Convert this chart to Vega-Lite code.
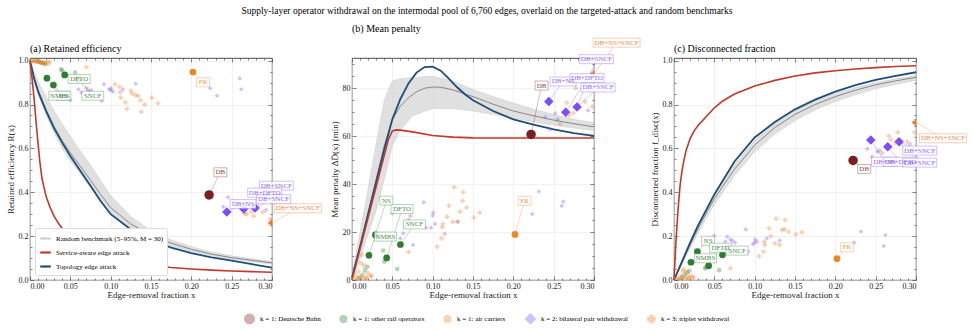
{
  "$schema": "https://vega.github.io/schema/vega-lite/v6.json",
  "padding": 5,
  "title": {"text": "Supply-layer operator withdrawal on the intermodal pool of 6,760 edges, overlaid on the targeted-attack and random benchmarks", "anchor": "middle", "fontSize": 9.5, "offset": 8, "font": "Liberation Serif", "fontWeight": "normal"},
  "datasets": {
    "leg": [
      {"s": "Random benchmark (5–95%, M = 30)", "x": 0, "y": 0},
      {"s": "Service-aware edge attack", "x": 0, "y": 0},
      {"s": "Topology edge attack", "x": 0, "y": 0}
    ],
    "band": [
      {"p":"a","x":0,"lo":1,"hi":1},{"p":"a","x":0.005,"lo":0.91,"hi":0.95},{"p":"a","x":0.01,"lo":0.845,"hi":0.905},{"p":"a","x":0.02,"lo":0.75,"hi":0.835},{"p":"a","x":0.03,"lo":0.67,"hi":0.77},{"p":"a","x":0.04,"lo":0.6,"hi":0.71},{"p":"a","x":0.05,"lo":0.545,"hi":0.655},{"p":"a","x":0.06,"lo":0.495,"hi":0.6},{"p":"a","x":0.075,"lo":0.42,"hi":0.525},{"p":"a","x":0.0875,"lo":0.36,"hi":0.455},{"p":"a","x":0.1,"lo":0.305,"hi":0.385},{"p":"a","x":0.125,"lo":0.235,"hi":0.29},{"p":"a","x":0.15,"lo":0.19,"hi":0.225},{"p":"a","x":0.175,"lo":0.155,"hi":0.183},{"p":"a","x":0.2,"lo":0.13,"hi":0.152},{"p":"a","x":0.225,"lo":0.11,"hi":0.128},{"p":"a","x":0.25,"lo":0.095,"hi":0.11},{"p":"a","x":0.275,"lo":0.083,"hi":0.097},{"p":"a","x":0.3,"lo":0.072,"hi":0.085},
      {"p":"b","x":0,"lo":0,"hi":2},{"p":"b","x":0.01,"lo":9,"hi":20},{"p":"b","x":0.02,"lo":19,"hi":38},{"p":"b","x":0.03,"lo":29,"hi":57},{"p":"b","x":0.04,"lo":42,"hi":75},{"p":"b","x":0.05,"lo":56,"hi":83},{"p":"b","x":0.06,"lo":62.5,"hi":84},{"p":"b","x":0.075,"lo":68.5,"hi":84.5},{"p":"b","x":0.1,"lo":71.5,"hi":85},{"p":"b","x":0.125,"lo":71.5,"hi":83},{"p":"b","x":0.15,"lo":70.5,"hi":79.5},{"p":"b","x":0.175,"lo":69,"hi":76.5},{"p":"b","x":0.2,"lo":67.5,"hi":73.8},{"p":"b","x":0.225,"lo":66,"hi":71.3},{"p":"b","x":0.25,"lo":64.6,"hi":69},{"p":"b","x":0.275,"lo":63.4,"hi":67},{"p":"b","x":0.3,"lo":62.4,"hi":65.6},
      {"p":"c","x":0,"lo":0,"hi":0},{"p":"c","x":0.01,"lo":0.07,"hi":0.088},{"p":"c","x":0.02,"lo":0.145,"hi":0.172},{"p":"c","x":0.03,"lo":0.215,"hi":0.25},{"p":"c","x":0.04,"lo":0.28,"hi":0.322},{"p":"c","x":0.05,"lo":0.343,"hi":0.39},{"p":"c","x":0.06,"lo":0.397,"hi":0.445},{"p":"c","x":0.075,"lo":0.475,"hi":0.527},{"p":"c","x":0.1,"lo":0.585,"hi":0.637},{"p":"c","x":0.125,"lo":0.665,"hi":0.715},{"p":"c","x":0.15,"lo":0.727,"hi":0.773},{"p":"c","x":0.175,"lo":0.775,"hi":0.816},{"p":"c","x":0.2,"lo":0.814,"hi":0.85},{"p":"c","x":0.225,"lo":0.845,"hi":0.877},{"p":"c","x":0.25,"lo":0.872,"hi":0.9},{"p":"c","x":0.275,"lo":0.892,"hi":0.917},{"p":"c","x":0.3,"lo":0.91,"hi":0.932}
    ],
    "curves": [
      {"p":"a","s":"svc","x":0,"y":1.0},{"p":"a","s":"svc","x":0.0025,"y":0.92},{"p":"a","s":"svc","x":0.005,"y":0.83},{"p":"a","s":"svc","x":0.0075,"y":0.72},{"p":"a","s":"svc","x":0.01,"y":0.62},{"p":"a","s":"svc","x":0.0125,"y":0.53},{"p":"a","s":"svc","x":0.015,"y":0.46},{"p":"a","s":"svc","x":0.02,"y":0.38},{"p":"a","s":"svc","x":0.025,"y":0.33},{"p":"a","s":"svc","x":0.03,"y":0.29},{"p":"a","s":"svc","x":0.035,"y":0.26},{"p":"a","s":"svc","x":0.04,"y":0.235},{"p":"a","s":"svc","x":0.045,"y":0.215},{"p":"a","s":"svc","x":0.05,"y":0.195},{"p":"a","s":"svc","x":0.06,"y":0.165},{"p":"a","s":"svc","x":0.07,"y":0.145},{"p":"a","s":"svc","x":0.08,"y":0.128},{"p":"a","s":"svc","x":0.1,"y":0.1},{"p":"a","s":"svc","x":0.125,"y":0.08},{"p":"a","s":"svc","x":0.15,"y":0.067},{"p":"a","s":"svc","x":0.175,"y":0.057},{"p":"a","s":"svc","x":0.2,"y":0.05},{"p":"a","s":"svc","x":0.225,"y":0.045},{"p":"a","s":"svc","x":0.25,"y":0.041},{"p":"a","s":"svc","x":0.275,"y":0.038},{"p":"a","s":"svc","x":0.3,"y":0.035},
      {"p":"a","s":"top","x":0,"y":1.0},{"p":"a","s":"top","x":0.005,"y":0.92},{"p":"a","s":"top","x":0.01,"y":0.86},{"p":"a","s":"top","x":0.02,"y":0.77},{"p":"a","s":"top","x":0.03,"y":0.69},{"p":"a","s":"top","x":0.04,"y":0.625},{"p":"a","s":"top","x":0.05,"y":0.565},{"p":"a","s":"top","x":0.06,"y":0.51},{"p":"a","s":"top","x":0.075,"y":0.43},{"p":"a","s":"top","x":0.0875,"y":0.36},{"p":"a","s":"top","x":0.1,"y":0.3},{"p":"a","s":"top","x":0.125,"y":0.23},{"p":"a","s":"top","x":0.15,"y":0.18},{"p":"a","s":"top","x":0.175,"y":0.148},{"p":"a","s":"top","x":0.2,"y":0.122},{"p":"a","s":"top","x":0.225,"y":0.103},{"p":"a","s":"top","x":0.25,"y":0.088},{"p":"a","s":"top","x":0.275,"y":0.072},{"p":"a","s":"top","x":0.3,"y":0.056},
      {"p":"a","s":"med","x":0,"y":1.0},{"p":"a","s":"med","x":0.005,"y":0.925},{"p":"a","s":"med","x":0.01,"y":0.865},{"p":"a","s":"med","x":0.02,"y":0.775},{"p":"a","s":"med","x":0.03,"y":0.7},{"p":"a","s":"med","x":0.04,"y":0.635},{"p":"a","s":"med","x":0.05,"y":0.58},{"p":"a","s":"med","x":0.06,"y":0.53},{"p":"a","s":"med","x":0.075,"y":0.455},{"p":"a","s":"med","x":0.0875,"y":0.39},{"p":"a","s":"med","x":0.1,"y":0.33},{"p":"a","s":"med","x":0.125,"y":0.255},{"p":"a","s":"med","x":0.15,"y":0.205},{"p":"a","s":"med","x":0.175,"y":0.168},{"p":"a","s":"med","x":0.2,"y":0.14},{"p":"a","s":"med","x":0.225,"y":0.118},{"p":"a","s":"med","x":0.25,"y":0.102},{"p":"a","s":"med","x":0.275,"y":0.09},{"p":"a","s":"med","x":0.3,"y":0.078},
      {"p":"b","s":"svc","x":0,"y":0},{"p":"b","s":"svc","x":0.01,"y":13},{"p":"b","s":"svc","x":0.02,"y":26},{"p":"b","s":"svc","x":0.03,"y":39},{"p":"b","s":"svc","x":0.04,"y":52},{"p":"b","s":"svc","x":0.045,"y":58.5},{"p":"b","s":"svc","x":0.05,"y":62.2},{"p":"b","s":"svc","x":0.055,"y":62.6},{"p":"b","s":"svc","x":0.06,"y":62.5},{"p":"b","s":"svc","x":0.075,"y":61.8},{"p":"b","s":"svc","x":0.1,"y":60.3},{"p":"b","s":"svc","x":0.125,"y":59.6},{"p":"b","s":"svc","x":0.15,"y":59.3},{"p":"b","s":"svc","x":0.2,"y":59.2},{"p":"b","s":"svc","x":0.25,"y":59.2},{"p":"b","s":"svc","x":0.3,"y":59.2},
      {"p":"b","s":"top","x":0,"y":1},{"p":"b","s":"top","x":0.01,"y":14},{"p":"b","s":"top","x":0.02,"y":27.5},{"p":"b","s":"top","x":0.03,"y":41},{"p":"b","s":"top","x":0.04,"y":54.5},{"p":"b","s":"top","x":0.05,"y":67},{"p":"b","s":"top","x":0.06,"y":75.5},{"p":"b","s":"top","x":0.07,"y":82},{"p":"b","s":"top","x":0.08,"y":86.5},{"p":"b","s":"top","x":0.09,"y":88.8},{"p":"b","s":"top","x":0.1,"y":89},{"p":"b","s":"top","x":0.11,"y":87.3},{"p":"b","s":"top","x":0.12,"y":84},{"p":"b","s":"top","x":0.13,"y":80.5},{"p":"b","s":"top","x":0.14,"y":77.5},{"p":"b","s":"top","x":0.15,"y":75},{"p":"b","s":"top","x":0.175,"y":70.5},{"p":"b","s":"top","x":0.2,"y":67},{"p":"b","s":"top","x":0.225,"y":64.8},{"p":"b","s":"top","x":0.25,"y":62.8},{"p":"b","s":"top","x":0.275,"y":61.3},{"p":"b","s":"top","x":0.3,"y":60.1},
      {"p":"b","s":"med","x":0,"y":1},{"p":"b","s":"med","x":0.01,"y":14},{"p":"b","s":"med","x":0.02,"y":28},{"p":"b","s":"med","x":0.03,"y":42},{"p":"b","s":"med","x":0.04,"y":56},{"p":"b","s":"med","x":0.05,"y":67},{"p":"b","s":"med","x":0.06,"y":72.5},{"p":"b","s":"med","x":0.07,"y":76},{"p":"b","s":"med","x":0.08,"y":78.5},{"p":"b","s":"med","x":0.09,"y":80},{"p":"b","s":"med","x":0.1,"y":80.5},{"p":"b","s":"med","x":0.11,"y":80.4},{"p":"b","s":"med","x":0.125,"y":79.3},{"p":"b","s":"med","x":0.15,"y":76.5},{"p":"b","s":"med","x":0.175,"y":73.3},{"p":"b","s":"med","x":0.2,"y":70.5},{"p":"b","s":"med","x":0.225,"y":68.5},{"p":"b","s":"med","x":0.25,"y":66.7},{"p":"b","s":"med","x":0.275,"y":65.2},{"p":"b","s":"med","x":0.3,"y":63.9},
      {"p":"c","s":"svc","x":0,"y":0},{"p":"c","s":"svc","x":0.0025,"y":0.18},{"p":"c","s":"svc","x":0.005,"y":0.32},{"p":"c","s":"svc","x":0.0075,"y":0.43},{"p":"c","s":"svc","x":0.01,"y":0.5},{"p":"c","s":"svc","x":0.0125,"y":0.55},{"p":"c","s":"svc","x":0.015,"y":0.59},{"p":"c","s":"svc","x":0.02,"y":0.645},{"p":"c","s":"svc","x":0.025,"y":0.68},{"p":"c","s":"svc","x":0.03,"y":0.705},{"p":"c","s":"svc","x":0.035,"y":0.725},{"p":"c","s":"svc","x":0.04,"y":0.745},{"p":"c","s":"svc","x":0.045,"y":0.765},{"p":"c","s":"svc","x":0.05,"y":0.785},{"p":"c","s":"svc","x":0.06,"y":0.815},{"p":"c","s":"svc","x":0.075,"y":0.848},{"p":"c","s":"svc","x":0.1,"y":0.884},{"p":"c","s":"svc","x":0.125,"y":0.91},{"p":"c","s":"svc","x":0.15,"y":0.93},{"p":"c","s":"svc","x":0.175,"y":0.944},{"p":"c","s":"svc","x":0.2,"y":0.954},{"p":"c","s":"svc","x":0.225,"y":0.962},{"p":"c","s":"svc","x":0.25,"y":0.968},{"p":"c","s":"svc","x":0.275,"y":0.973},{"p":"c","s":"svc","x":0.3,"y":0.977},
      {"p":"c","s":"top","x":0,"y":0},{"p":"c","s":"top","x":0.01,"y":0.085},{"p":"c","s":"top","x":0.02,"y":0.17},{"p":"c","s":"top","x":0.03,"y":0.25},{"p":"c","s":"top","x":0.04,"y":0.32},{"p":"c","s":"top","x":0.05,"y":0.39},{"p":"c","s":"top","x":0.06,"y":0.45},{"p":"c","s":"top","x":0.075,"y":0.54},{"p":"c","s":"top","x":0.1,"y":0.65},{"p":"c","s":"top","x":0.125,"y":0.72},{"p":"c","s":"top","x":0.15,"y":0.778},{"p":"c","s":"top","x":0.175,"y":0.822},{"p":"c","s":"top","x":0.2,"y":0.859},{"p":"c","s":"top","x":0.225,"y":0.888},{"p":"c","s":"top","x":0.25,"y":0.912},{"p":"c","s":"top","x":0.275,"y":0.931},{"p":"c","s":"top","x":0.3,"y":0.947},
      {"p":"c","s":"med","x":0,"y":0},{"p":"c","s":"med","x":0.01,"y":0.08},{"p":"c","s":"med","x":0.02,"y":0.16},{"p":"c","s":"med","x":0.03,"y":0.235},{"p":"c","s":"med","x":0.04,"y":0.305},{"p":"c","s":"med","x":0.05,"y":0.37},{"p":"c","s":"med","x":0.06,"y":0.425},{"p":"c","s":"med","x":0.075,"y":0.505},{"p":"c","s":"med","x":0.1,"y":0.615},{"p":"c","s":"med","x":0.125,"y":0.695},{"p":"c","s":"med","x":0.15,"y":0.755},{"p":"c","s":"med","x":0.175,"y":0.8},{"p":"c","s":"med","x":0.2,"y":0.836},{"p":"c","s":"med","x":0.225,"y":0.865},{"p":"c","s":"med","x":0.25,"y":0.89},{"p":"c","s":"med","x":0.275,"y":0.908},{"p":"c","s":"med","x":0.3,"y":0.924}
    ],
    "pts": [
      {"n":"DB","c":"k = 1: Deutsche Bahn","hl":1,"x":0.222,"R":0.388,"P":60.7,"F":0.545},
      {"n":"NMBS","c":"k = 1: other rail operators","hl":1,"x":0.021,"R":0.92,"P":10.3,"F":0.081},
      {"n":"NS","c":"k = 1: other rail operators","hl":1,"x":0.029,"R":0.889,"P":18.8,"F":0.129},
      {"n":"DFTO","c":"k = 1: other rail operators","hl":1,"x":0.043,"R":0.935,"P":9.2,"F":0.065},
      {"n":"SNCF","c":"k = 1: other rail operators","hl":1,"x":0.06,"R":0.915,"P":14.8,"F":0.115},
      {"n":"FR","c":"k = 1: air carriers","hl":1,"x":0.202,"R":0.948,"P":19.0,"F":0.097},
      {"n":"DB+NS","c":"k = 2: bilateral pair withdrawal","hl":1,"x":0.244,"R":0.31,"P":74.5,"F":0.638},
      {"n":"DB+DFTO","c":"k = 2: bilateral pair withdrawal","hl":1,"x":0.265,"R":0.324,"P":70.0,"F":0.607},
      {"n":"DB+SNCF","c":"k = 2: bilateral pair withdrawal","hl":1,"x":0.279,"R":0.328,"P":72.2,"F":0.63},
      {"n":"DB+NS+SNCF","c":"k = 3: triplet withdrawal","hl":1,"x":0.3,"R":0.26,"P":86.0,"F":0.718},
      {"c":"k = 1: other rail operators","hl":0,"x":0.0385,"R":0.96,"P":12.3,"F":0.053},
      {"c":"k = 1: other rail operators","hl":0,"x":0.056,"R":0.946,"P":4.6,"F":0.045},
      {"c":"k = 1: other rail operators","hl":0,"x":0.04,"R":0.955,"P":7.7,"F":0.058},
      {"c":"k = 1: other rail operators","hl":0,"x":0.016,"R":0.99,"P":4.0,"F":0.035},
      {"c":"k = 1: other rail operators","hl":0,"x":0.019,"R":0.985,"P":5.5,"F":0.042},
      {"c":"k = 1: other rail operators","hl":0,"x":0.013,"R":0.993,"P":2.2,"F":0.022},
      {"c":"k = 1: other rail operators","hl":0,"x":0.01,"R":0.996,"P":1.0,"F":0.012},
      {"c":"k = 1: air carriers","hl":0,"x":0.012,"R":0.995,"P":10.5,"F":0.05},
      {"c":"k = 1: air carriers","hl":0,"x":0.011,"R":0.993,"P":7.0,"F":0.04},
      {"c":"k = 1: air carriers","hl":0,"x":0.015,"R":0.988,"P":6.0,"F":0.03},
      {"c":"k = 1: air carriers","hl":0,"x":0.004,"R":0.999,"P":2.0,"F":0.008},
      {"c":"k = 1: air carriers","hl":0,"x":0.009,"R":0.997,"P":1.2,"F":0.005},
      {"c":"k = 1: air carriers","hl":0,"x":0.007,"R":0.998,"P":0.6,"F":0.003},
      {"c":"k = 1: air carriers","hl":0,"x":0.02,"R":0.99,"P":2.8,"F":0.02},
      {"c":"k = 1: air carriers","hl":0,"x":0.023,"R":0.986,"P":1.8,"F":0.012},
      {"c":"k = 1: air carriers","hl":0,"x":0.002,"R":1.0,"P":0.3,"F":0.002},
      {"c":"k = 1: air carriers","hl":0,"x":0.017,"R":0.992,"P":0.8,"F":0.01},
      {"c":"k = 1: air carriers","hl":0,"x":0.006,"R":0.999,"P":0.2,"F":0.004},
      {"c":"k = 2: bilateral pair withdrawal","hl":0,"x":0.05,"R":0.82,"P":27.8,"F":0.202},
      {"c":"k = 2: bilateral pair withdrawal","hl":0,"x":0.06,"R":0.869,"P":17.4,"F":0.147},
      {"c":"k = 2: bilateral pair withdrawal","hl":0,"x":0.0636,"R":0.855,"P":19.5,"F":0.175},
      {"c":"k = 2: bilateral pair withdrawal","hl":0,"x":0.066,"R":0.85,"P":22.2,"F":0.198},
      {"c":"k = 2: bilateral pair withdrawal","hl":0,"x":0.0757,"R":0.866,"P":14.6,"F":0.17},
      {"c":"k = 2: bilateral pair withdrawal","hl":0,"x":0.07,"R":0.875,"P":25.0,"F":0.185},
      {"c":"k = 2: bilateral pair withdrawal","hl":0,"x":0.0723,"R":0.862,"P":26.7,"F":0.178},
      {"c":"k = 2: bilateral pair withdrawal","hl":0,"x":0.0889,"R":0.816,"P":32.4,"F":0.231},
      {"c":"k = 2: bilateral pair withdrawal","hl":0,"x":0.0918,"R":0.892,"P":21.8,"F":0.129},
      {"c":"k = 2: bilateral pair withdrawal","hl":0,"x":0.098,"R":0.87,"P":21.8,"F":0.163},
      {"c":"k = 2: bilateral pair withdrawal","hl":0,"x":0.1006,"R":0.874,"P":28.1,"F":0.185},
      {"c":"k = 2: bilateral pair withdrawal","hl":0,"x":0.1029,"R":0.859,"P":23.4,"F":0.175},
      {"c":"k = 2: bilateral pair withdrawal","hl":0,"x":0.1,"R":0.865,"P":26.8,"F":0.17},
      {"c":"k = 2: bilateral pair withdrawal","hl":0,"x":0.115,"R":0.869,"P":19.2,"F":0.19},
      {"c":"k = 2: bilateral pair withdrawal","hl":0,"x":0.131,"R":0.895,"P":24.4,"F":0.18},
      {"c":"k = 2: bilateral pair withdrawal","hl":0,"x":0.2234,"R":0.874,"P":27.5,"F":0.17},
      {"c":"k = 2: bilateral pair withdrawal","hl":0,"x":0.2317,"R":0.84,"P":36.9,"F":0.22},
      {"c":"k = 2: bilateral pair withdrawal","hl":0,"x":0.26,"R":0.919,"P":30.9,"F":0.155},
      {"c":"k = 2: bilateral pair withdrawal","hl":0,"x":0.262,"R":0.869,"P":32.7,"F":0.205},
      {"c":"k = 2: bilateral pair withdrawal","hl":0,"x":0.2396,"R":0.334,"P":67.9,"F":0.598},
      {"c":"k = 2: bilateral pair withdrawal","hl":0,"x":0.2455,"R":0.377,"P":62.9,"F":0.562},
      {"c":"k = 2: bilateral pair withdrawal","hl":0,"x":0.255,"R":0.355,"P":67.0,"F":0.59},
      {"c":"k = 2: bilateral pair withdrawal","hl":0,"x":0.252,"R":0.36,"P":69.6,"F":0.585},
      {"c":"k = 2: bilateral pair withdrawal","hl":0,"x":0.2926,"R":0.32,"P":70.7,"F":0.62},
      {"c":"k = 3: triplet withdrawal","hl":0,"x":0.1054,"R":0.892,"P":13.9,"F":0.109},
      {"c":"k = 3: triplet withdrawal","hl":0,"x":0.111,"R":0.881,"P":17.4,"F":0.13},
      {"c":"k = 3: triplet withdrawal","hl":0,"x":0.112,"R":0.856,"P":22.0,"F":0.175},
      {"c":"k = 3: triplet withdrawal","hl":0,"x":0.1125,"R":0.831,"P":23.4,"F":0.16},
      {"c":"k = 3: triplet withdrawal","hl":0,"x":0.118,"R":0.81,"P":26.4,"F":0.236},
      {"c":"k = 3: triplet withdrawal","hl":0,"x":0.12,"R":0.78,"P":31.0,"F":0.2},
      {"c":"k = 3: triplet withdrawal","hl":0,"x":0.125,"R":0.863,"P":24.3,"F":0.167},
      {"c":"k = 3: triplet withdrawal","hl":0,"x":0.1268,"R":0.85,"P":38.7,"F":0.28},
      {"c":"k = 3: triplet withdrawal","hl":0,"x":0.131,"R":0.843,"P":24.3,"F":0.16},
      {"c":"k = 3: triplet withdrawal","hl":0,"x":0.134,"R":0.839,"P":28.5,"F":0.228},
      {"c":"k = 3: triplet withdrawal","hl":0,"x":0.137,"R":0.819,"P":33.1,"F":0.232},
      {"c":"k = 3: triplet withdrawal","hl":0,"x":0.138,"R":0.767,"P":36.6,"F":0.274},
      {"c":"k = 3: triplet withdrawal","hl":0,"x":0.142,"R":0.8,"P":30.2,"F":0.22},
      {"c":"k = 3: triplet withdrawal","hl":0,"x":0.151,"R":0.831,"P":26.0,"F":0.208},
      {"c":"k = 3: triplet withdrawal","hl":0,"x":0.1585,"R":0.805,"P":28.1,"F":0.2175},
      {"c":"k = 3: triplet withdrawal","hl":0,"x":0.07,"R":0.97,"P":11.7,"F":0.053},
      {"c":"k = 3: triplet withdrawal","hl":0,"x":0.2662,"R":0.304,"P":74.0,"F":0.657},
      {"c":"k = 3: triplet withdrawal","hl":0,"x":0.2773,"R":0.292,"P":80.0,"F":0.673},
      {"c":"k = 3: triplet withdrawal","hl":0,"x":0.2745,"R":0.311,"P":69.6,"F":0.626},
      {"c":"k = 3: triplet withdrawal","hl":0,"x":0.2888,"R":0.31,"P":74.4,"F":0.631},
      {"c":"k = 3: triplet withdrawal","hl":0,"x":0.298,"R":0.278,"P":72.3,"F":0.673},
      {"c":"k = 3: triplet withdrawal","hl":0,"x":0.258,"R":0.34,"P":65.1,"F":0.578},
      {"c":"k = 3: triplet withdrawal","hl":0,"x":0.2686,"R":0.3,"P":68.9,"F":0.64},
      {"c":"k = 3: triplet withdrawal","hl":0,"x":0.014,"R":0.99,"P":0.5,"F":0.006},
      {"c":"k = 3: triplet withdrawal","hl":0,"x":0.018,"R":0.985,"P":1.0,"F":0.008},
      {"c":"k = 3: triplet withdrawal","hl":0,"x":0.024,"R":0.996,"P":1.5,"F":0.012},
      {"c":"k = 3: triplet withdrawal","hl":0,"x":0.008,"R":0.995,"P":3.5,"F":0.02}
    ],
    "ann": [
      {"p":"a","t":"NMBS","c":"k = 1: other rail operators","px":0.021,"py":0.92,"lx":0.037,"ly":0.84},
      {"p":"a","t":"NS","c":"k = 1: other rail operators","px":0.029,"py":0.889,"lx":0.041,"ly":0.84},
      {"p":"a","t":"DFTO","c":"k = 1: other rail operators","px":0.043,"py":0.935,"lx":0.061,"ly":0.916},
      {"p":"a","t":"SNCF","c":"k = 1: other rail operators","px":0.06,"py":0.915,"lx":0.0777,"ly":0.84},
      {"p":"a","t":"FR","c":"k = 1: air carriers","px":0.202,"py":0.948,"lx":0.2145,"ly":0.901},
      {"p":"a","t":"DB","c":"k = 1: Deutsche Bahn","px":0.222,"py":0.388,"lx":0.236,"ly":0.491},
      {"p":"a","t":"DB+SNCF","c":"k = 2: bilateral pair withdrawal","px":0.279,"py":0.328,"lx":0.3054,"ly":0.43},
      {"p":"a","t":"DB+DFTO","c":"k = 2: bilateral pair withdrawal","px":0.265,"py":0.324,"lx":0.291,"ly":0.398},
      {"p":"a","t":"DB+SNCF","c":"k = 2: bilateral pair withdrawal","px":0.279,"py":0.328,"lx":0.302,"ly":0.368},
      {"p":"a","t":"DB+NS","c":"k = 2: bilateral pair withdrawal","px":0.244,"py":0.31,"lx":0.264,"ly":0.346},
      {"p":"a","t":"DB+NS+SNCF","c":"k = 3: triplet withdrawal","px":0.3,"py":0.26,"lx":0.332,"ly":0.327},
      {"p":"b","t":"NS","c":"k = 1: other rail operators","px":0.021,"py":10.3,"lx":0.0426,"ly":33.1},
      {"p":"b","t":"NMBS","c":"k = 1: other rail operators","px":0.029,"py":18.8,"lx":0.0414,"ly":18.1},
      {"p":"b","t":"DFTO","c":"k = 1: other rail operators","px":0.043,"py":9.2,"lx":0.062,"ly":29.6},
      {"p":"b","t":"SNCF","c":"k = 1: other rail operators","px":0.06,"py":14.8,"lx":0.0774,"ly":23.2},
      {"p":"b","t":"FR","c":"k = 1: air carriers","px":0.202,"py":19.0,"lx":0.214,"ly":33.0},
      {"p":"b","t":"DB","c":"k = 1: Deutsche Bahn","px":0.222,"py":60.7,"lx":0.235,"ly":81.1},
      {"p":"b","t":"DB+NS","c":"k = 2: bilateral pair withdrawal","px":0.244,"py":74.5,"lx":0.2616,"ly":82.8},
      {"p":"b","t":"DB+DFTO","c":"k = 2: bilateral pair withdrawal","px":0.265,"py":70.0,"lx":0.2913,"ly":84.2},
      {"p":"b","t":"DB+SNCF","c":"k = 2: bilateral pair withdrawal","px":0.279,"py":72.2,"lx":0.303,"ly":92.1},
      {"p":"b","t":"DB+SNCF","c":"k = 2: bilateral pair withdrawal","px":0.279,"py":72.2,"lx":0.305,"ly":80.3},
      {"p":"b","t":"DB+NS+SNCF","c":"k = 3: triplet withdrawal","px":0.3,"py":86.0,"lx":0.328,"ly":99.0},
      {"p":"c","t":"NS","c":"k = 1: other rail operators","px":0.029,"py":0.129,"lx":0.0422,"ly":0.179},
      {"p":"c","t":"DFTO","c":"k = 1: other rail operators","px":0.043,"py":0.065,"lx":0.0576,"ly":0.147},
      {"p":"c","t":"SNCF","c":"k = 1: other rail operators","px":0.06,"py":0.115,"lx":0.0782,"ly":0.134},
      {"p":"c","t":"NMBS","c":"k = 1: other rail operators","px":0.021,"py":0.081,"lx":0.039,"ly":0.099},
      {"p":"c","t":"FR","c":"k = 1: air carriers","px":0.202,"py":0.097,"lx":0.2143,"ly":0.149},
      {"p":"c","t":"DB","c":"k = 1: Deutsche Bahn","px":0.222,"py":0.545,"lx":0.2358,"ly":0.506},
      {"p":"c","t":"DB+NS","c":"k = 2: bilateral pair withdrawal","px":0.244,"py":0.638,"lx":0.261,"ly":0.539},
      {"p":"c","t":"DB+DFTO","c":"k = 2: bilateral pair withdrawal","px":0.265,"py":0.607,"lx":0.281,"ly":0.539},
      {"p":"c","t":"DB+SNCF","c":"k = 2: bilateral pair withdrawal","px":0.279,"py":0.63,"lx":0.3046,"ly":0.59},
      {"p":"c","t":"DB+SNCF","c":"k = 2: bilateral pair withdrawal","px":0.279,"py":0.63,"lx":0.3046,"ly":0.535},
      {"p":"c","t":"DB+NS+SNCF","c":"k = 3: triplet withdrawal","px":0.3,"py":0.718,"lx":0.3335,"ly":0.646}
    ]
  },
  "hconcat": [
    {
      "width": 242, "height": 222,
      "title": {"text": "(a) Retained efficiency", "anchor": "start", "frame": "group", "fontSize": 10, "offset": 3, "font": "Liberation Serif", "fontWeight": "normal"},
      "layer": [
        {"data": {"name": "band"}, "transform": [{"filter": "datum.p === 'a'"}],
         "mark": {"type": "area", "fill": "#d4d4d4", "opacity": 0.7, "stroke": "#b5b5b5", "strokeWidth": 0.5},
         "encoding": {
           "x": {"field": "x", "type": "quantitative", "scale": {"domain": [0, 0.3], "nice": false, "zero": false}, "axis": {"orient": "bottom", "values": [0, 0.05, 0.1, 0.15, 0.2, 0.25, 0.3], "format": ".2f", "title": "Edge-removal fraction x", "grid": true}},
           "y": {"field": "lo", "type": "quantitative", "scale": {"domain": [0, 1.012], "nice": false}, "axis": {"orient": "left", "values": [0, 0.2, 0.4, 0.6, 0.8, 1.0], "format": ".1f", "title": "Retained efficiency R(x)", "grid": true}},
           "y2": {"field": "hi"}
         }},
        {"data": {"name": "curves"}, "transform": [{"filter": "datum.p === 'a' && datum.s === 'med'"}],
         "mark": {"type": "line", "stroke": "#7d7d7d", "strokeWidth": 0.9},
         "encoding": {
           "x": {"field": "x", "type": "quantitative", "axis": {"orient": "bottom", "values": [0.01,0.02,0.03,0.04,0.06,0.07,0.08,0.09,0.11,0.12,0.13,0.14,0.16,0.17,0.18,0.19,0.21,0.22,0.23,0.24,0.26,0.27,0.28,0.29], "labels": false, "title": null, "grid": false, "tickSize": -2}},
           "y": {"field": "y", "type": "quantitative", "axis": {"orient": "left", "values": [0.05,0.1,0.15,0.25,0.3,0.35,0.45,0.5,0.55,0.65,0.7,0.75,0.85,0.9,0.95], "labels": false, "title": null, "grid": false, "tickSize": -2}}
         }},
        {"data": {"name": "curves"}, "transform": [{"filter": "datum.p === 'a' && datum.s === 'top'"}],
         "mark": {"type": "line", "stroke": "#1f4e79", "strokeWidth": 1.8},
         "encoding": {
           "x": {"field": "x", "type": "quantitative", "axis": {"orient": "top", "values": [0, 0.05, 0.1, 0.15, 0.2, 0.25, 0.3], "labels": false, "title": null, "grid": false}},
           "y": {"field": "y", "type": "quantitative", "axis": {"orient": "right", "values": [0, 0.2, 0.4, 0.6, 0.8, 1.0], "labels": false, "title": null, "grid": false}}
         }},
        {"data": {"name": "curves"}, "transform": [{"filter": "datum.p === 'a' && datum.s === 'svc'"}],
         "mark": {"type": "line", "stroke": "#c0392b", "strokeWidth": 1.6},
         "encoding": {
           "x": {"field": "x", "type": "quantitative", "axis": {"orient": "top", "values": [0.01,0.02,0.03,0.04,0.06,0.07,0.08,0.09,0.11,0.12,0.13,0.14,0.16,0.17,0.18,0.19,0.21,0.22,0.23,0.24,0.26,0.27,0.28,0.29], "labels": false, "title": null, "grid": false, "tickSize": -2}},
           "y": {"field": "y", "type": "quantitative", "axis": {"orient": "right", "values": [0.05,0.1,0.15,0.25,0.3,0.35,0.45,0.5,0.55,0.65,0.7,0.75,0.85,0.9,0.95], "labels": false, "title": null, "grid": false, "tickSize": -2}}
         }},
        {"data": {"name": "leg"},
         "mark": {"type": "line"},
         "encoding": {
           "x": {"field": "x", "type": "quantitative", "axis": null},
           "y": {"field": "y", "type": "quantitative", "axis": null},
           "stroke": {"field": "s", "type": "nominal", "scale": {"domain": ["Random benchmark (5–95%, M = 30)", "Service-aware edge attack", "Topology edge attack"], "range": ["#cfcfcf", "#c0392b", "#1f4e79"]}, "legend": {"orient": "bottom-left", "title": null, "offset": 5, "fillColor": "white", "strokeColor": "#dddddd", "padding": 4, "cornerRadius": 2, "labelFontSize": 7, "labelFont": "Liberation Serif", "symbolSize": 110, "symbolStrokeWidth": 2.2, "rowPadding": 3}}
         }},
        {"data": {"name": "pts"}, "transform": [{"filter": "datum.hl === 1"}],
         "mark": {"type": "point", "filled": true, "opacity": 1, "clip": true},
         "encoding": {
           "x": {"field": "x", "type": "quantitative", "axis": null},
           "y": {"field": "R", "type": "quantitative", "axis": null},
           "color": {"field": "c", "type": "nominal", "scale": {"domain": ["k = 1: Deutsche Bahn", "k = 1: other rail operators", "k = 1: air carriers", "k = 2: bilateral pair withdrawal", "k = 3: triplet withdrawal"], "range": ["#7b1f22", "#2e7d32", "#ee8626", "#7c4dff", "#e8772e"]}, "legend": {"orient": "bottom", "offset": 13, "direction": "horizontal", "title": null, "labelFontSize": 7, "labelFont": "Liberation Serif", "columnPadding": 16, "labelOffset": 5, "symbolOpacity": 1}},
           "shape": {"field": "c", "type": "nominal", "scale": {"domain": ["k = 1: Deutsche Bahn", "k = 1: other rail operators", "k = 1: air carriers", "k = 2: bilateral pair withdrawal", "k = 3: triplet withdrawal"], "range": ["circle", "circle", "circle", "diamond", "cross"]}, "legend": {"orient": "bottom", "offset": 13, "direction": "horizontal", "title": null, "labelFontSize": 7, "labelFont": "Liberation Serif", "columnPadding": 16, "labelOffset": 5, "symbolOpacity": 1}},
           "size": {"field": "c", "type": "nominal", "scale": {"type": "ordinal", "domain": ["k = 1: Deutsche Bahn", "k = 1: other rail operators", "k = 1: air carriers", "k = 2: bilateral pair withdrawal", "k = 3: triplet withdrawal"], "range": [90, 45, 45, 90, 50]}, "legend": {"orient": "bottom", "offset": 13, "direction": "horizontal", "title": null, "labelFontSize": 7, "labelFont": "Liberation Serif", "columnPadding": 16, "labelOffset": 5, "symbolOpacity": 1}}
         }},
        {"data": {"name": "pts"}, "transform": [{"filter": "datum.hl === 0"}],
         "mark": {"type": "point", "filled": true, "opacity": 0.35, "size": 22, "clip": true},
         "encoding": {
           "x": {"field": "x", "type": "quantitative", "axis": null},
           "y": {"field": "R", "type": "quantitative", "axis": null},
           "color": {"field": "c", "type": "nominal"},
           "shape": {"field": "c", "type": "nominal"}
         }},
        {"data": {"name": "ann"}, "transform": [{"filter": "datum.p === 'a'"}],
         "mark": {"type": "rule", "strokeWidth": 0.6, "opacity": 0.5},
         "encoding": {
           "x": {"field": "px", "type": "quantitative", "axis": null},
           "y": {"field": "py", "type": "quantitative", "axis": null},
           "x2": {"field": "lx"}, "y2": {"field": "ly"},
           "color": {"field": "c", "type": "nominal"}
         }},
        {"data": {"name": "ann"}, "transform": [{"filter": "datum.p === 'a' && indexof(['DB','NS','FR'], datum.t) >= 0"}],
         "mark": {"type": "point", "filled": false, "fill": "white", "fillOpacity": 0.85, "strokeOpacity": 0.5, "strokeWidth": 0.7, "size": 100, "shape": "M-1.3,-0.9H1.3V0.9H-1.3Z"},
         "encoding": {"x": {"field": "lx", "type": "quantitative", "axis": null}, "y": {"field": "ly", "type": "quantitative", "axis": null}, "color": {"field": "c", "type": "nominal"}}},
        {"data": {"name": "ann"}, "transform": [{"filter": "datum.p === 'a' && indexof(['DFTO','SNCF','NMBS'], datum.t) >= 0"}],
         "mark": {"type": "point", "filled": false, "fill": "white", "fillOpacity": 0.85, "strokeOpacity": 0.5, "strokeWidth": 0.7, "size": 100, "shape": "M-2.2,-0.9H2.2V0.9H-2.2Z"},
         "encoding": {"x": {"field": "lx", "type": "quantitative", "axis": null}, "y": {"field": "ly", "type": "quantitative", "axis": null}, "color": {"field": "c", "type": "nominal"}}},
        {"data": {"name": "ann"}, "transform": [{"filter": "datum.p === 'a' && datum.t === 'DB+NS'"}],
         "mark": {"type": "point", "filled": false, "fill": "white", "fillOpacity": 0.85, "strokeOpacity": 0.5, "strokeWidth": 0.7, "size": 100, "shape": "M-2.6,-0.9H2.6V0.9H-2.6Z"},
         "encoding": {"x": {"field": "lx", "type": "quantitative", "axis": null}, "y": {"field": "ly", "type": "quantitative", "axis": null}, "color": {"field": "c", "type": "nominal"}}},
        {"data": {"name": "ann"}, "transform": [{"filter": "datum.p === 'a' && (datum.t === 'DB+DFTO' || datum.t === 'DB+SNCF')"}],
         "mark": {"type": "point", "filled": false, "fill": "white", "fillOpacity": 0.85, "strokeOpacity": 0.5, "strokeWidth": 0.7, "size": 100, "shape": "M-3.4,-0.9H3.4V0.9H-3.4Z"},
         "encoding": {"x": {"field": "lx", "type": "quantitative", "axis": null}, "y": {"field": "ly", "type": "quantitative", "axis": null}, "color": {"field": "c", "type": "nominal"}}},
        {"data": {"name": "ann"}, "transform": [{"filter": "datum.p === 'a' && datum.t === 'DB+NS+SNCF'"}],
         "mark": {"type": "point", "filled": false, "fill": "white", "fillOpacity": 0.85, "strokeOpacity": 0.5, "strokeWidth": 0.7, "size": 100, "shape": "M-4.7,-0.9H4.7V0.9H-4.7Z"},
         "encoding": {"x": {"field": "lx", "type": "quantitative", "axis": null}, "y": {"field": "ly", "type": "quantitative", "axis": null}, "color": {"field": "c", "type": "nominal"}}},
        {"data": {"name": "ann"}, "transform": [{"filter": "datum.p === 'a'"}],
         "mark": {"type": "text", "fontSize": 7, "font": "Liberation Serif", "align": "center", "baseline": "middle", "opacity": 0.85},
         "encoding": {"x": {"field": "lx", "type": "quantitative", "axis": null}, "y": {"field": "ly", "type": "quantitative", "axis": null}, "text": {"field": "t"}, "color": {"field": "c", "type": "nominal"}}}
      ]
    },
    {
      "width": 242, "height": 222,
      "title": {"text": "(b) Mean penalty", "anchor": "start", "frame": "group", "fontSize": 10, "offset": 3, "font": "Liberation Serif", "fontWeight": "normal"},
      "layer": [
        {"data": {"name": "band"}, "transform": [{"filter": "datum.p === 'b'"}],
         "mark": {"type": "area", "fill": "#d4d4d4", "opacity": 0.7, "stroke": "#b5b5b5", "strokeWidth": 0.5},
         "encoding": {
           "x": {"field": "x", "type": "quantitative", "scale": {"domain": [0, 0.3], "nice": false, "zero": false}, "axis": {"orient": "bottom", "values": [0, 0.05, 0.1, 0.15, 0.2, 0.25, 0.3], "format": ".2f", "title": "Edge-removal fraction x", "grid": true}},
           "y": {"field": "lo", "type": "quantitative", "scale": {"domain": [0, 92.6], "nice": false}, "axis": {"orient": "left", "values": [0, 20, 40, 60, 80], "format": "d", "title": "Mean penalty ΔD̄(x) (min)", "grid": true}},
           "y2": {"field": "hi"}
         }},
        {"data": {"name": "curves"}, "transform": [{"filter": "datum.p === 'b' && datum.s === 'med'"}],
         "mark": {"type": "line", "stroke": "#7d7d7d", "strokeWidth": 0.9},
         "encoding": {
           "x": {"field": "x", "type": "quantitative", "axis": {"orient": "bottom", "values": [0.01,0.02,0.03,0.04,0.06,0.07,0.08,0.09,0.11,0.12,0.13,0.14,0.16,0.17,0.18,0.19,0.21,0.22,0.23,0.24,0.26,0.27,0.28,0.29], "labels": false, "title": null, "grid": false, "tickSize": -2}},
           "y": {"field": "y", "type": "quantitative", "axis": {"orient": "left", "values": [5,10,15,25,30,35,45,50,55,65,70,75,85,90], "labels": false, "title": null, "grid": false, "tickSize": -2}}
         }},
        {"data": {"name": "curves"}, "transform": [{"filter": "datum.p === 'b' && datum.s === 'top'"}],
         "mark": {"type": "line", "stroke": "#1f4e79", "strokeWidth": 1.8},
         "encoding": {
           "x": {"field": "x", "type": "quantitative", "axis": {"orient": "top", "values": [0, 0.05, 0.1, 0.15, 0.2, 0.25, 0.3], "labels": false, "title": null, "grid": false}},
           "y": {"field": "y", "type": "quantitative", "axis": {"orient": "right", "values": [0, 20, 40, 60, 80], "labels": false, "title": null, "grid": false}}
         }},
        {"data": {"name": "curves"}, "transform": [{"filter": "datum.p === 'b' && datum.s === 'svc'"}],
         "mark": {"type": "line", "stroke": "#c0392b", "strokeWidth": 1.6},
         "encoding": {
           "x": {"field": "x", "type": "quantitative", "axis": {"orient": "top", "values": [0.01,0.02,0.03,0.04,0.06,0.07,0.08,0.09,0.11,0.12,0.13,0.14,0.16,0.17,0.18,0.19,0.21,0.22,0.23,0.24,0.26,0.27,0.28,0.29], "labels": false, "title": null, "grid": false, "tickSize": -2}},
           "y": {"field": "y", "type": "quantitative", "axis": {"orient": "right", "values": [5,10,15,25,30,35,45,50,55,65,70,75,85,90], "labels": false, "title": null, "grid": false, "tickSize": -2}}
         }},
        {"data": {"name": "pts"}, "transform": [{"filter": "datum.hl === 1"}],
         "mark": {"type": "point", "filled": true, "opacity": 1, "clip": true},
         "encoding": {
           "x": {"field": "x", "type": "quantitative", "axis": null},
           "y": {"field": "P", "type": "quantitative", "axis": null},
           "color": {"field": "c", "type": "nominal"},
           "shape": {"field": "c", "type": "nominal"},
           "size": {"field": "c", "type": "nominal", "scale": {"type": "ordinal", "domain": ["k = 1: Deutsche Bahn", "k = 1: other rail operators", "k = 1: air carriers", "k = 2: bilateral pair withdrawal", "k = 3: triplet withdrawal"], "range": [90, 45, 45, 90, 50]}}
         }},
        {"data": {"name": "pts"}, "transform": [{"filter": "datum.hl === 0"}],
         "mark": {"type": "point", "filled": true, "opacity": 0.35, "size": 22, "clip": true},
         "encoding": {
           "x": {"field": "x", "type": "quantitative", "axis": null},
           "y": {"field": "P", "type": "quantitative", "axis": null},
           "color": {"field": "c", "type": "nominal"},
           "shape": {"field": "c", "type": "nominal"}
         }},
        {"data": {"name": "ann"}, "transform": [{"filter": "datum.p === 'b'"}],
         "mark": {"type": "rule", "strokeWidth": 0.6, "opacity": 0.5},
         "encoding": {
           "x": {"field": "px", "type": "quantitative", "axis": null},
           "y": {"field": "py", "type": "quantitative", "axis": null},
           "x2": {"field": "lx"}, "y2": {"field": "ly"},
           "color": {"field": "c", "type": "nominal"}
         }},
        {"data": {"name": "ann"}, "transform": [{"filter": "datum.p === 'b' && indexof(['DB','NS','FR'], datum.t) >= 0"}],
         "mark": {"type": "point", "filled": false, "fill": "white", "fillOpacity": 0.85, "strokeOpacity": 0.5, "strokeWidth": 0.7, "size": 100, "shape": "M-1.3,-0.9H1.3V0.9H-1.3Z"},
         "encoding": {"x": {"field": "lx", "type": "quantitative", "axis": null}, "y": {"field": "ly", "type": "quantitative", "axis": null}, "color": {"field": "c", "type": "nominal"}}},
        {"data": {"name": "ann"}, "transform": [{"filter": "datum.p === 'b' && indexof(['DFTO','SNCF','NMBS'], datum.t) >= 0"}],
         "mark": {"type": "point", "filled": false, "fill": "white", "fillOpacity": 0.85, "strokeOpacity": 0.5, "strokeWidth": 0.7, "size": 100, "shape": "M-2.2,-0.9H2.2V0.9H-2.2Z"},
         "encoding": {"x": {"field": "lx", "type": "quantitative", "axis": null}, "y": {"field": "ly", "type": "quantitative", "axis": null}, "color": {"field": "c", "type": "nominal"}}},
        {"data": {"name": "ann"}, "transform": [{"filter": "datum.p === 'b' && datum.t === 'DB+NS'"}],
         "mark": {"type": "point", "filled": false, "fill": "white", "fillOpacity": 0.85, "strokeOpacity": 0.5, "strokeWidth": 0.7, "size": 100, "shape": "M-2.6,-0.9H2.6V0.9H-2.6Z"},
         "encoding": {"x": {"field": "lx", "type": "quantitative", "axis": null}, "y": {"field": "ly", "type": "quantitative", "axis": null}, "color": {"field": "c", "type": "nominal"}}},
        {"data": {"name": "ann"}, "transform": [{"filter": "datum.p === 'b' && (datum.t === 'DB+DFTO' || datum.t === 'DB+SNCF')"}],
         "mark": {"type": "point", "filled": false, "fill": "white", "fillOpacity": 0.85, "strokeOpacity": 0.5, "strokeWidth": 0.7, "size": 100, "shape": "M-3.4,-0.9H3.4V0.9H-3.4Z"},
         "encoding": {"x": {"field": "lx", "type": "quantitative", "axis": null}, "y": {"field": "ly", "type": "quantitative", "axis": null}, "color": {"field": "c", "type": "nominal"}}},
        {"data": {"name": "ann"}, "transform": [{"filter": "datum.p === 'b' && datum.t === 'DB+NS+SNCF'"}],
         "mark": {"type": "point", "filled": false, "fill": "white", "fillOpacity": 0.85, "strokeOpacity": 0.5, "strokeWidth": 0.7, "size": 100, "shape": "M-4.7,-0.9H4.7V0.9H-4.7Z"},
         "encoding": {"x": {"field": "lx", "type": "quantitative", "axis": null}, "y": {"field": "ly", "type": "quantitative", "axis": null}, "color": {"field": "c", "type": "nominal"}}},
        {"data": {"name": "ann"}, "transform": [{"filter": "datum.p === 'b'"}],
         "mark": {"type": "text", "fontSize": 7, "font": "Liberation Serif", "align": "center", "baseline": "middle", "opacity": 0.85},
         "encoding": {"x": {"field": "lx", "type": "quantitative", "axis": null}, "y": {"field": "ly", "type": "quantitative", "axis": null}, "text": {"field": "t"}, "color": {"field": "c", "type": "nominal"}}}
      ]
    },
    {
      "width": 242, "height": 222,
      "title": {"text": "(c) Disconnected fraction", "anchor": "start", "frame": "group", "fontSize": 10, "offset": 3, "font": "Liberation Serif", "fontWeight": "normal"},
      "layer": [
        {"data": {"name": "band"}, "transform": [{"filter": "datum.p === 'c'"}],
         "mark": {"type": "area", "fill": "#d4d4d4", "opacity": 0.7, "stroke": "#b5b5b5", "strokeWidth": 0.5},
         "encoding": {
           "x": {"field": "x", "type": "quantitative", "scale": {"domain": [0, 0.3], "nice": false, "zero": false}, "axis": {"orient": "bottom", "values": [0, 0.05, 0.1, 0.15, 0.2, 0.25, 0.3], "format": ".2f", "title": "Edge-removal fraction x", "grid": true}},
           "y": {"field": "lo", "type": "quantitative", "scale": {"domain": [0, 1.012], "nice": false}, "axis": {"orient": "left", "values": [0, 0.2, 0.4, 0.6, 0.8, 1.0], "format": ".1f", "title": "Disconnected fraction f_disc(x)", "grid": true}},
           "y2": {"field": "hi"}
         }},
        {"data": {"name": "curves"}, "transform": [{"filter": "datum.p === 'c' && datum.s === 'med'"}],
         "mark": {"type": "line", "stroke": "#7d7d7d", "strokeWidth": 0.9},
         "encoding": {
           "x": {"field": "x", "type": "quantitative", "axis": {"orient": "bottom", "values": [0.01,0.02,0.03,0.04,0.06,0.07,0.08,0.09,0.11,0.12,0.13,0.14,0.16,0.17,0.18,0.19,0.21,0.22,0.23,0.24,0.26,0.27,0.28,0.29], "labels": false, "title": null, "grid": false, "tickSize": -2}},
           "y": {"field": "y", "type": "quantitative", "axis": {"orient": "left", "values": [0.05,0.1,0.15,0.25,0.3,0.35,0.45,0.5,0.55,0.65,0.7,0.75,0.85,0.9,0.95], "labels": false, "title": null, "grid": false, "tickSize": -2}}
         }},
        {"data": {"name": "curves"}, "transform": [{"filter": "datum.p === 'c' && datum.s === 'top'"}],
         "mark": {"type": "line", "stroke": "#1f4e79", "strokeWidth": 1.8},
         "encoding": {
           "x": {"field": "x", "type": "quantitative", "axis": {"orient": "top", "values": [0, 0.05, 0.1, 0.15, 0.2, 0.25, 0.3], "labels": false, "title": null, "grid": false}},
           "y": {"field": "y", "type": "quantitative", "axis": {"orient": "right", "values": [0, 0.2, 0.4, 0.6, 0.8, 1.0], "labels": false, "title": null, "grid": false}}
         }},
        {"data": {"name": "curves"}, "transform": [{"filter": "datum.p === 'c' && datum.s === 'svc'"}],
         "mark": {"type": "line", "stroke": "#c0392b", "strokeWidth": 1.6},
         "encoding": {
           "x": {"field": "x", "type": "quantitative", "axis": {"orient": "top", "values": [0.01,0.02,0.03,0.04,0.06,0.07,0.08,0.09,0.11,0.12,0.13,0.14,0.16,0.17,0.18,0.19,0.21,0.22,0.23,0.24,0.26,0.27,0.28,0.29], "labels": false, "title": null, "grid": false, "tickSize": -2}},
           "y": {"field": "y", "type": "quantitative", "axis": {"orient": "right", "values": [0.05,0.1,0.15,0.25,0.3,0.35,0.45,0.5,0.55,0.65,0.7,0.75,0.85,0.9,0.95], "labels": false, "title": null, "grid": false, "tickSize": -2}}
         }},
        {"data": {"name": "pts"}, "transform": [{"filter": "datum.hl === 1"}],
         "mark": {"type": "point", "filled": true, "opacity": 1, "clip": true},
         "encoding": {
           "x": {"field": "x", "type": "quantitative", "axis": null},
           "y": {"field": "F", "type": "quantitative", "axis": null},
           "color": {"field": "c", "type": "nominal"},
           "shape": {"field": "c", "type": "nominal"},
           "size": {"field": "c", "type": "nominal", "scale": {"type": "ordinal", "domain": ["k = 1: Deutsche Bahn", "k = 1: other rail operators", "k = 1: air carriers", "k = 2: bilateral pair withdrawal", "k = 3: triplet withdrawal"], "range": [90, 45, 45, 90, 50]}}
         }},
        {"data": {"name": "pts"}, "transform": [{"filter": "datum.hl === 0"}],
         "mark": {"type": "point", "filled": true, "opacity": 0.35, "size": 22, "clip": true},
         "encoding": {
           "x": {"field": "x", "type": "quantitative", "axis": null},
           "y": {"field": "F", "type": "quantitative", "axis": null},
           "color": {"field": "c", "type": "nominal"},
           "shape": {"field": "c", "type": "nominal"}
         }},
        {"data": {"name": "ann"}, "transform": [{"filter": "datum.p === 'c'"}],
         "mark": {"type": "rule", "strokeWidth": 0.6, "opacity": 0.5},
         "encoding": {
           "x": {"field": "px", "type": "quantitative", "axis": null},
           "y": {"field": "py", "type": "quantitative", "axis": null},
           "x2": {"field": "lx"}, "y2": {"field": "ly"},
           "color": {"field": "c", "type": "nominal"}
         }},
        {"data": {"name": "ann"}, "transform": [{"filter": "datum.p === 'c' && indexof(['DB','NS','FR'], datum.t) >= 0"}],
         "mark": {"type": "point", "filled": false, "fill": "white", "fillOpacity": 0.85, "strokeOpacity": 0.5, "strokeWidth": 0.7, "size": 100, "shape": "M-1.3,-0.9H1.3V0.9H-1.3Z"},
         "encoding": {"x": {"field": "lx", "type": "quantitative", "axis": null}, "y": {"field": "ly", "type": "quantitative", "axis": null}, "color": {"field": "c", "type": "nominal"}}},
        {"data": {"name": "ann"}, "transform": [{"filter": "datum.p === 'c' && indexof(['DFTO','SNCF','NMBS'], datum.t) >= 0"}],
         "mark": {"type": "point", "filled": false, "fill": "white", "fillOpacity": 0.85, "strokeOpacity": 0.5, "strokeWidth": 0.7, "size": 100, "shape": "M-2.2,-0.9H2.2V0.9H-2.2Z"},
         "encoding": {"x": {"field": "lx", "type": "quantitative", "axis": null}, "y": {"field": "ly", "type": "quantitative", "axis": null}, "color": {"field": "c", "type": "nominal"}}},
        {"data": {"name": "ann"}, "transform": [{"filter": "datum.p === 'c' && datum.t === 'DB+NS'"}],
         "mark": {"type": "point", "filled": false, "fill": "white", "fillOpacity": 0.85, "strokeOpacity": 0.5, "strokeWidth": 0.7, "size": 100, "shape": "M-2.6,-0.9H2.6V0.9H-2.6Z"},
         "encoding": {"x": {"field": "lx", "type": "quantitative", "axis": null}, "y": {"field": "ly", "type": "quantitative", "axis": null}, "color": {"field": "c", "type": "nominal"}}},
        {"data": {"name": "ann"}, "transform": [{"filter": "datum.p === 'c' && (datum.t === 'DB+DFTO' || datum.t === 'DB+SNCF')"}],
         "mark": {"type": "point", "filled": false, "fill": "white", "fillOpacity": 0.85, "strokeOpacity": 0.5, "strokeWidth": 0.7, "size": 100, "shape": "M-3.4,-0.9H3.4V0.9H-3.4Z"},
         "encoding": {"x": {"field": "lx", "type": "quantitative", "axis": null}, "y": {"field": "ly", "type": "quantitative", "axis": null}, "color": {"field": "c", "type": "nominal"}}},
        {"data": {"name": "ann"}, "transform": [{"filter": "datum.p === 'c' && datum.t === 'DB+NS+SNCF'"}],
         "mark": {"type": "point", "filled": false, "fill": "white", "fillOpacity": 0.85, "strokeOpacity": 0.5, "strokeWidth": 0.7, "size": 100, "shape": "M-4.7,-0.9H4.7V0.9H-4.7Z"},
         "encoding": {"x": {"field": "lx", "type": "quantitative", "axis": null}, "y": {"field": "ly", "type": "quantitative", "axis": null}, "color": {"field": "c", "type": "nominal"}}},
        {"data": {"name": "ann"}, "transform": [{"filter": "datum.p === 'c'"}],
         "mark": {"type": "text", "fontSize": 7, "font": "Liberation Serif", "align": "center", "baseline": "middle", "opacity": 0.85},
         "encoding": {"x": {"field": "lx", "type": "quantitative", "axis": null}, "y": {"field": "ly", "type": "quantitative", "axis": null}, "text": {"field": "t"}, "color": {"field": "c", "type": "nominal"}}}
      ]
    }
  ],
  "spacing": 80,
  "bounds": "flush",
  "resolve": {"scale": {"stroke": "independent"}},
  "config": {
    "font": "Liberation Serif",
    "view": {"stroke": "#222222", "strokeWidth": 0.8},
    "axis": {"labelFont": "Liberation Serif", "labelFontSize": 8, "labelColor": "#222222", "titleFont": "Liberation Serif", "titleFontSize": 9, "titleFontWeight": "normal", "titleColor": "#222222", "domain": false, "tickColor": "#333333", "tickSize": -4, "tickWidth": 0.6, "labelPadding": 6, "titlePadding": 3, "gridColor": "#e9e9e9", "gridWidth": 0.6, "grid": false},
    "axisX": {"titlePadding": 0},
    "legend": {"labelFont": "Liberation Serif", "layout": {"bottom": {"anchor": "middle"}}}
  }
}
